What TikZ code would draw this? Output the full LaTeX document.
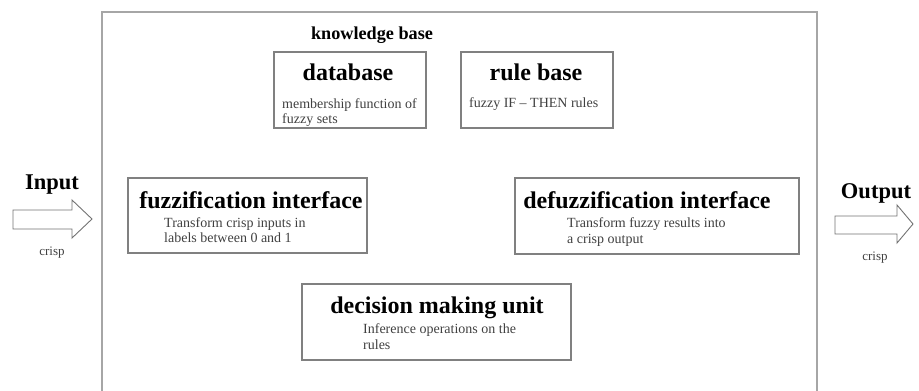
\documentclass[tikz,border=0pt]{standalone}
\usepackage{fontspec}
\setmainfont{Liberation Serif}
\begin{document}
\begin{tikzpicture}[x=1pt,y=-1pt,
  frame/.style={draw=black!35,line width=1.6pt},
  unitbox/.style={draw=black!50,line width=1.2pt,rectangle,inner sep=0pt},
  heading/.style={anchor=base,inner sep=0pt,font=\fontsize{24}{28}\selectfont\bfseries},
  bigtitle/.style={anchor=base,inner sep=0pt,font=\fontsize{18.2}{22}\selectfont\bfseries},
  iolabel/.style={anchor=base,inner sep=0pt,font=\fontsize{22.5}{26}\selectfont\bfseries},
  bodyline/.style={anchor=base west,inner sep=0pt,text=black!75,font=\fontsize{14}{16}\selectfont},
  small/.style={anchor=base,inner sep=0pt,text=black!75,font=\fontsize{13}{15}\selectfont},
  hollow/.style={draw=black!55,line width=0.9pt,fill=white,line join=miter}]
\useasboundingbox (0,0) rectangle (919,391);

% knowledge base frame (open at the bottom)
\draw[frame] (102,391) -- (102,12) -- (817,12) -- (817,391);
\node[bigtitle] (kb) at (372,39) {knowledge base};

% database
\draw[unitbox] (274,52) rectangle (426,128);
\node[heading] (dbh) at (348,80) {database};
\node[bodyline] (db1) at (282,108) {membership function of};
\node[bodyline] (db2) at (282,123) {fuzzy sets};

% rule base
\draw[unitbox] (461,52) rectangle (613,128);
\node[heading] (rbh) at (536,80) {rule base};
\node[bodyline] (rb1) at (469,107) {fuzzy IF -- THEN rules};

% fuzzification interface
\draw[unitbox] (128,178) rectangle (367,253);
\node[heading] (fih) at (251,208) {fuzzification interface};
\node[bodyline] (fi1) at (164,227) {Transform crisp inputs in};
\node[bodyline] (fi2) at (164,242) {labels between 0 and 1};

% defuzzification interface
\draw[unitbox] (515,178) rectangle (799,254);
\node[heading] (dfh) at (647,208) {defuzzification interface};
\node[bodyline] (df1) at (567,227) {Transform fuzzy results into};
\node[bodyline] (df2) at (567,243) {a crisp output};

% decision making unit
\draw[unitbox] (302,284) rectangle (571,360);
\node[heading] (dmh) at (437,313) {decision making unit};
\node[bodyline] (dm1) at (363,333) {Inference operations on the};
\node[bodyline] (dm2) at (363,349) {rules};

% input side
\node[iolabel] (in) at (52,189) {Input};
\draw[hollow] (13,210) -- (72,210) -- (72,200) -- (92,219) -- (72,238) -- (72,229) -- (13,229) -- cycle;
\node[small] (incrisp) at (52,255) {crisp};

% output side
\node[iolabel] (out) at (876,198) {Output};
\draw[hollow] (835,216) -- (897,216) -- (897,205) -- (913,224) -- (897,243) -- (897,234) -- (835,234) -- cycle;
\node[small] (outcrisp) at (875,260) {crisp};
\end{tikzpicture}
\end{document}
